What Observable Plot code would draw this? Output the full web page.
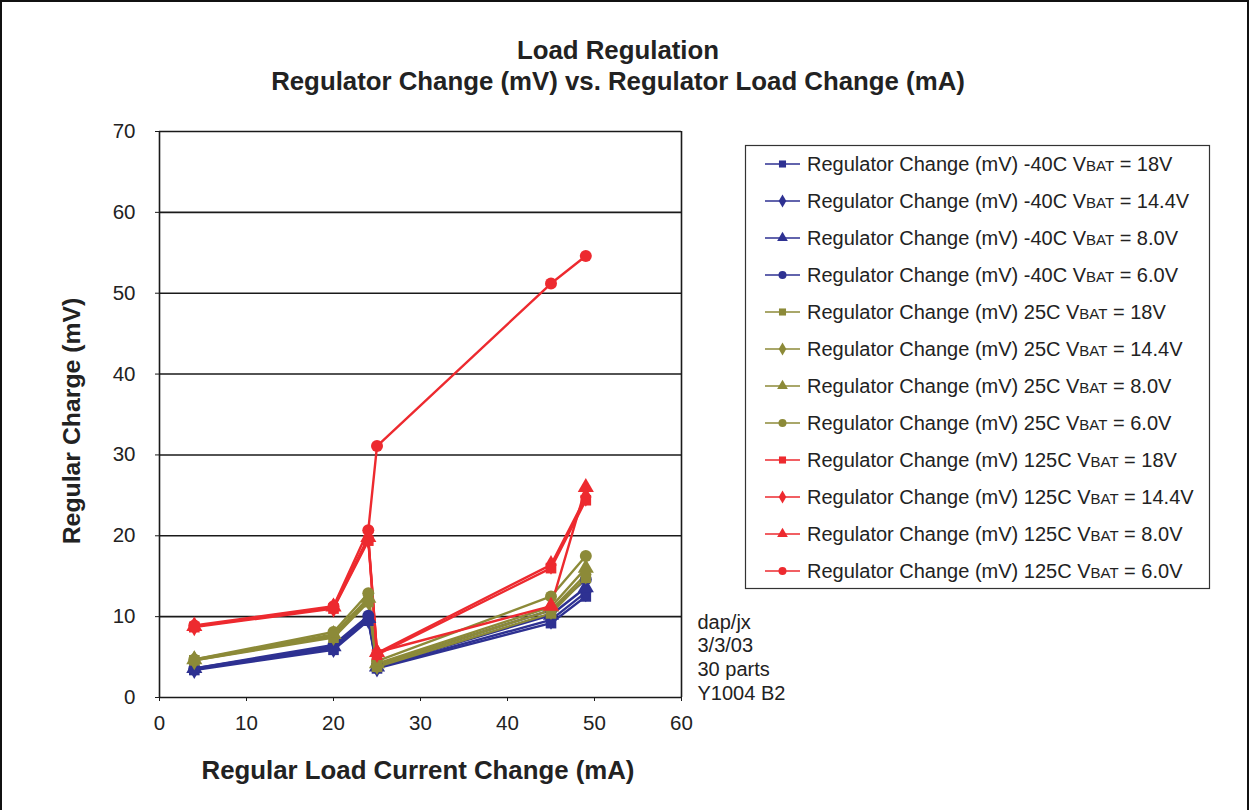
<!DOCTYPE html>
<html>
<head>
<meta charset="utf-8">
<script src="https://cdn.jsdelivr.net/npm/d3@7"></script>
<script src="https://cdn.jsdelivr.net/npm/@observablehq/plot@0.6"></script>
<style>
  body { margin: 0; background: #fff; }
  svg text { font-family: "Liberation Sans", Arial, sans-serif; }
</style>
</head>
<body>
<div id="chart"></div>
<script>
// ---- data ----
const loadCurrent = [4, 20, 24, 25, 45, 49];
const temps = ["-40C", "25C", "125C"];
const vbats = ["18V", "14.4V", "8.0V", "6.0V"];
const symbolsByVbat = ["square", "diamond", "triangle", "circle"];
const colorsByTemp = ["#2e3192", "#8c8a38", "#ed2a2f"];

const m40_18 = [3.4, 5.9, 9.5, 3.6, 9.2, 12.5];
const m40_144 = [3.5, 6.1, 9.7, 3.7, 9.6, 13.0];
const m40_80 = [3.6, 6.3, 9.8, 3.8, 10.2, 13.6];
const m40_60 = [3.6, 6.5, 10.1, 4.0, 10.8, 14.6];
const t25_18 = [4.6, 7.4, 11.8, 3.8, 10.4, 14.8];
const t25_144 = [4.6, 7.6, 12.0, 4.0, 10.8, 15.2];
const t25_80 = [4.7, 7.8, 12.3, 4.2, 11.2, 16.0];
const t25_60 = [4.7, 8.1, 12.9, 4.5, 12.5, 17.5];
const t125_18 = [8.7, 11.0, 19.4, 5.3, 16.0, 24.4];
const t125_144 = [8.8, 11.1, 19.6, 5.5, 16.4, 24.8];
const t125_80 = [8.8, 11.2, 19.8, 5.6, 11.3, 26.0];
const t125_60 = [8.9, 11.3, 20.7, 31.1, 51.2, 54.6];

const seriesValues = [
  [m40_18, m40_144, m40_80, m40_60],
  [t25_18, t25_144, t25_80, t25_60],
  [t125_18, t125_144, t125_80, t125_60]
];

const yTicks = [0, 10, 20, 30, 40, 50, 60, 70];
const xTicks = [0, 10, 20, 30, 40, 50, 60];
const notes = ["dap/jx", "3/3/03", "30 parts", "Y1004 B2"];

// ---- build table ----
const rows = [];
const seriesList = [];
temps.forEach((t, ti) => {
  vbats.forEach((v, vi) => {
    const id = `${t} ${v}`;
    seriesList.push({id, t, v, color: colorsByTemp[ti], symbol: symbolsByVbat[vi]});
    seriesValues[ti][vi].forEach((val, i) => {
      rows.push({series: id, x: loadCurrent[i], y: val, color: colorsByTemp[ti], symbol: symbolsByVbat[vi]});
    });
  });
});

const W = 1249, H = 810;
const plot = Plot.plot({
  width: W,
  height: H,
  marginLeft: 159,
  marginRight: W - 681,
  marginTop: 131,
  marginBottom: H - 697,
  style: {fontFamily: "Liberation Sans, Arial, sans-serif", fontSize: "20px", color: "#222", background: "#fff"},
  x: {domain: [0, 60], label: null},
  y: {domain: [0, 70], label: null},
  marks: [
    Plot.ruleY(yTicks, {stroke: "#1a1a1a", strokeWidth: 1.6}),
    Plot.ruleX([0, 60], {stroke: "#1a1a1a", strokeWidth: 1.6}),
    Plot.axisX({ticks: xTicks, tickSize: 4, tickPadding: 14, fontSize: 20.5, label: null, stroke: "#1a1a1a"}),
    Plot.axisY({ticks: yTicks, tickSize: 4, tickPadding: 20, fontSize: 20.5, label: null, stroke: "#1a1a1a"}),
    Plot.line(rows, {x: "x", y: "y", z: "series", stroke: "color", strokeWidth: 2.4}),
    Plot.dot(rows, {x: "x", y: "y", fill: "color", symbol: "symbol", r: 6, stroke: null}),
    Plot.text([notes.join("\n")], {
      frameAnchor: "bottom-right", dx: 16, dy: 2, text: d => d, textAnchor: "start", lineAnchor: "bottom",
      lineHeight: 23.6 / 20, fontSize: 20, fill: "#222"
    })
  ]
});
document.getElementById("chart").appendChild(plot);

// ---- title, axis labels, legend, border ----
const svg = d3.select(plot);
svg.append("rect").attr("x", 1).attr("y", 1).attr("width", W - 2).attr("height", H + 5)
  .attr("fill", "none").attr("stroke", "#111").attr("stroke-width", 2);

svg.append("text").attr("x", 618).attr("y", 59).attr("text-anchor", "middle")
  .attr("font-size", 25.8).attr("font-weight", "bold").attr("fill", "#222").text("Load Regulation");
svg.append("text").attr("x", 618).attr("y", 90).attr("text-anchor", "middle")
  .attr("font-size", 25.8).attr("font-weight", "bold").attr("fill", "#222")
  .text("Regulator Change (mV) vs. Regulator Load Change (mA)");
svg.append("text").attr("x", 418).attr("y", 779).attr("text-anchor", "middle")
  .attr("font-size", 25.8).attr("font-weight", "bold").attr("fill", "#222")
  .text("Regular Load Current Change (mA)");
svg.append("text").attr("transform", "translate(80,421) rotate(-90)").attr("text-anchor", "middle")
  .attr("font-size", 24.8).attr("font-weight", "bold").attr("fill", "#222")
  .text("Regular Charge (mV)");

// legend
const lg = svg.append("g");
lg.append("rect").attr("x", 745.5).attr("y", 145.5).attr("width", 464).attr("height", 443)
  .attr("fill", "#fff").attr("stroke", "#333").attr("stroke-width", 1.2);
const symMap = {square: d3.symbolSquare, diamond: d3.symbolDiamond, triangle: d3.symbolTriangle, circle: d3.symbolCircle};
seriesList.forEach((s, i) => {
  const cy = 164 + i * 37;
  const g = lg.append("g").attr("transform", `translate(0,${cy})`);
  g.append("line").attr("x1", 765).attr("x2", 800).attr("y1", 0).attr("y2", 0)
    .attr("stroke", s.color).attr("stroke-width", 1.5);
  g.append("path").attr("transform", "translate(782.5,0)").attr("d", d3.symbol(symMap[s.symbol], 50)())
    .attr("fill", s.color);
  const tx = g.append("text").attr("x", 807).attr("y", 7).attr("text-anchor", "start")
    .attr("font-size", 20).attr("fill", "#222");
  tx.append("tspan").text(`Regulator Change (mV) ${s.t} V`);
  tx.append("tspan").attr("font-size", 15).text("BAT");
  tx.append("tspan").text(` = ${s.v}`);
});
</script>
</body>
</html>
